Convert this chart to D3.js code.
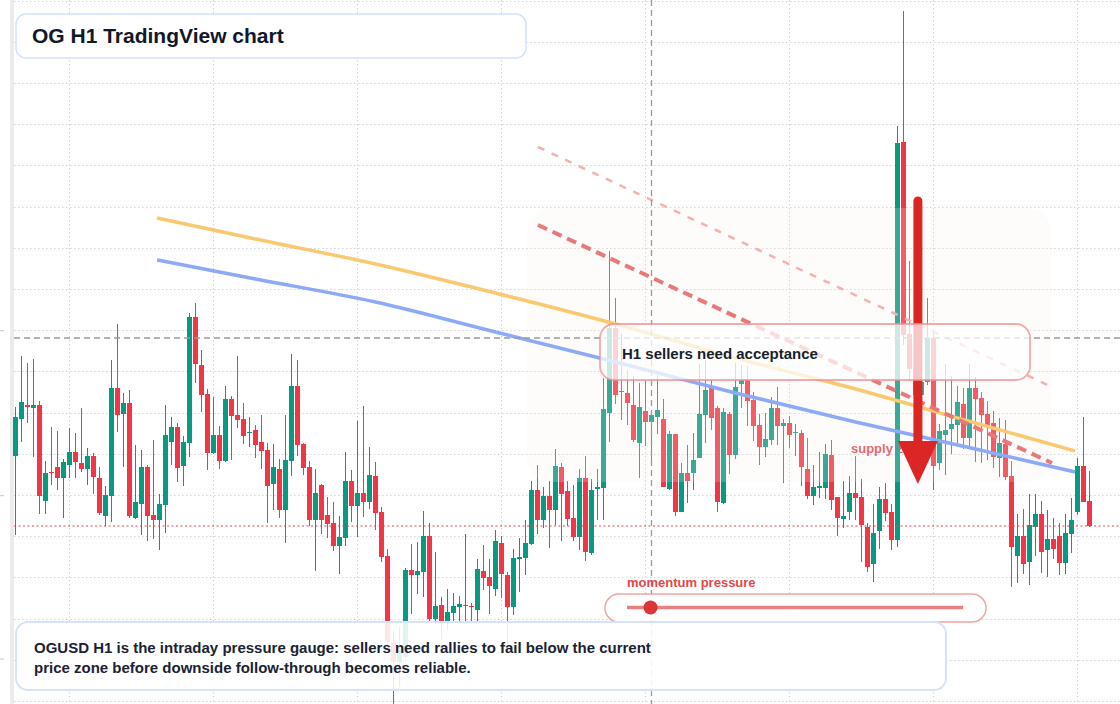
<!DOCTYPE html>
<html>
<head>
<meta charset="utf-8">
<script src="https://cdn.jsdelivr.net/npm/d3@7"></script>
<style>
  body { margin: 0; background: #fff; }
  svg { display: block; font-family: "Liberation Sans", Arial, Helvetica, sans-serif; }
</style>
</head>
<body>
<div id="chart"></div>
<script>
// OGUSD hourly candles (oldest -> newest)
const opens = [
  4.544,4.581,4.595,4.592,4.595,4.499,4.528,4.533,4.522,4.535,4.548,4.537,4.531,4.544,4.522,4.484,4.504,4.612,4.586,4.597,
  4.482,4.496,4.533,4.485,4.480,4.495,4.558,4.573,4.534,4.557,4.683,4.635,4.606,4.547,4.565,4.539,4.601,4.585,4.581,4.567,
  4.570,4.558,4.550,4.516,4.531,4.490,4.539,4.614,4.556,4.533,4.480,4.515,4.485,4.477,4.454,4.462,4.519,4.494,4.507,4.498,
  4.524,4.488,4.444,4.358,4.338,4.343,4.430,4.425,4.428,4.464,4.381,4.395,4.378,4.387,4.393,4.394,4.394,4.390,4.429,4.423,
  4.411,4.457,4.425,4.393,4.441,4.442,4.456,4.510,4.480,4.504,4.490,4.533,4.509,4.482,4.463,4.522,4.447,4.511,4.512,4.587,
  4.672,4.608,4.607,4.595,4.557,4.589,4.578,4.583,4.581,4.511,4.566,4.488,4.527,4.527,4.542,4.585,4.613,4.592,4.497,4.586,
  4.545,4.616,4.620,4.600,4.575,4.553,4.560,4.592,4.574,4.577,4.567,4.567,4.531,4.504,4.512,4.512,4.545,4.503,4.481,4.488,
  4.507,4.503,4.473,4.436,4.469,4.501,4.488,4.460,4.858,4.666,4.631,4.605,4.618,4.662,4.537,4.565,4.571,4.575,4.596,4.562,
  4.612,4.602,4.586,4.577,4.542,4.556,4.524,4.444,4.464,4.438,4.473,4.486,4.450,4.461,4.464,4.437,4.466,4.488,4.534,4.499
];
const highs = [
  4.593,4.644,4.637,4.641,4.599,4.539,4.573,4.569,4.541,4.572,4.567,4.592,4.552,4.547,4.533,4.514,4.640,4.676,4.607,4.610,
  4.555,4.550,4.535,4.560,4.506,4.595,4.583,4.577,4.564,4.687,4.697,4.650,4.611,4.603,4.574,4.614,4.604,4.644,4.597,4.583,
  4.575,4.585,4.557,4.556,4.541,4.585,4.646,4.640,4.557,4.539,4.531,4.516,4.503,4.498,4.484,4.548,4.530,4.579,4.594,4.553,
  4.538,4.493,4.451,4.370,4.373,4.432,4.456,4.458,4.489,4.477,4.448,4.403,4.411,4.407,4.404,4.466,4.397,4.441,4.455,4.441,
  4.470,4.464,4.428,4.451,4.462,4.480,4.519,4.535,4.513,4.519,4.551,4.537,4.519,4.515,4.531,4.544,4.521,4.531,4.622,4.749,
  4.702,4.666,4.630,4.624,4.617,4.619,4.587,4.625,4.601,4.569,4.566,4.537,4.555,4.567,4.636,4.640,4.620,4.594,4.592,4.588,
  4.637,4.635,4.634,4.608,4.586,4.587,4.603,4.613,4.581,4.584,4.576,4.570,4.562,4.535,4.548,4.556,4.560,4.503,4.519,4.524,
  4.544,4.521,4.477,4.496,4.513,4.517,4.496,4.874,4.989,4.739,4.650,4.628,4.702,4.670,4.576,4.636,4.624,4.614,4.612,4.636,
  4.623,4.608,4.599,4.589,4.582,4.580,4.539,4.486,4.491,4.506,4.506,4.499,4.490,4.482,4.477,4.486,4.502,4.542,4.583,4.529
];
const lows = [
  4.465,4.558,4.577,4.543,4.486,4.486,4.515,4.510,4.482,4.522,4.522,4.528,4.515,4.506,4.485,4.474,4.478,4.568,4.533,4.482,
  4.481,4.465,4.459,4.461,4.450,4.467,4.535,4.518,4.514,4.543,4.617,4.588,4.530,4.546,4.531,4.538,4.540,4.572,4.556,4.553,
  4.542,4.531,4.477,4.490,4.482,4.457,4.524,4.544,4.525,4.474,4.429,4.466,4.462,4.449,4.426,4.454,4.478,4.463,4.483,4.491,
  4.470,4.438,4.350,4.292,4.313,4.340,4.386,4.406,4.403,4.378,4.376,4.360,4.370,4.378,4.378,4.378,4.378,4.378,4.410,4.386,
  4.404,4.402,4.357,4.385,4.408,4.425,4.455,4.466,4.472,4.452,4.475,4.459,4.474,4.459,4.450,4.439,4.445,4.480,4.480,4.558,
  4.596,4.580,4.575,4.558,4.522,4.554,4.538,4.566,4.513,4.510,4.484,4.488,4.497,4.510,4.542,4.557,4.570,4.488,4.496,4.526,
  4.541,4.592,4.574,4.559,4.535,4.543,4.555,4.555,4.517,4.552,4.544,4.514,4.501,4.495,4.502,4.501,4.490,4.464,4.472,4.480,
  4.480,4.438,4.428,4.418,4.451,4.479,4.450,4.453,4.655,4.620,4.595,4.590,4.615,4.510,4.530,4.525,4.546,4.557,4.551,4.553,
  4.538,4.537,4.540,4.532,4.523,4.520,4.413,4.417,4.426,4.415,4.444,4.427,4.423,4.441,4.425,4.426,4.447,4.485,4.498,4.473
];
const closes = [
  4.583,4.598,4.593,4.595,4.504,4.527,4.527,4.522,4.538,4.548,4.538,4.531,4.544,4.523,4.487,4.505,4.612,4.585,4.597,4.484,
  4.498,4.533,4.484,4.480,4.496,4.565,4.573,4.532,4.558,4.683,4.636,4.605,4.547,4.565,4.539,4.601,4.584,4.580,4.564,4.568,
  4.555,4.549,4.514,4.533,4.490,4.540,4.614,4.555,4.532,4.480,4.507,4.480,4.476,4.454,4.463,4.519,4.494,4.507,4.498,4.525,
  4.487,4.443,4.358,4.338,4.350,4.430,4.425,4.429,4.464,4.381,4.394,4.378,4.388,4.394,4.396,4.395,4.393,4.431,4.422,4.414,
  4.459,4.426,4.393,4.442,4.443,4.457,4.510,4.480,4.504,4.490,4.534,4.506,4.481,4.463,4.522,4.448,4.510,4.513,4.591,4.672,
  4.605,4.609,4.597,4.560,4.593,4.578,4.585,4.590,4.513,4.566,4.488,4.527,4.519,4.540,4.586,4.610,4.582,4.498,4.588,4.545,
  4.613,4.620,4.599,4.574,4.553,4.561,4.592,4.574,4.577,4.565,4.568,4.533,4.504,4.513,4.514,4.546,4.500,4.482,4.484,4.507,
  4.502,4.475,4.433,4.467,4.501,4.487,4.460,4.857,4.665,4.631,4.605,4.618,4.662,4.534,4.569,4.570,4.576,4.598,4.562,4.612,
  4.601,4.585,4.573,4.543,4.557,4.523,4.453,4.464,4.436,4.475,4.486,4.448,4.461,4.451,4.437,4.467,4.480,4.534,4.498,4.474
];

// moving averages, sampled at candle positions
const maIndex = [23.6, 40, 60, 80, 100, 120, 140, 160, 176.6];
const maSlow = [4.782, 4.761, 4.736, 4.707, 4.676, 4.642, 4.611, 4.577, 4.549];
const maFast = [4.740, 4.721, 4.698, 4.668, 4.638, 4.607, 4.578, 4.551, 4.528];

// descending trend lines [index, price]
const trendOuter = [[87.08, 4.853], [172.75, 4.613]];
const trendInner = [[87.08, 4.775], [172.75, 4.537]];

// supply zone and sell arrow
const zoneIndex = [85.25, 172.6];
const zonePrice = [4.518, 4.792];
const arrowIndex = 150.4;
const arrowPrice = [4.804, 4.516];

// crosshair
const crossIndex = 106;
const crossPrice = 4.662;

const momentum = 0.07;

const titleText = "OG H1 TradingView chart";
const calloutText = "H1 sellers need acceptance";
const noteLines = [
  "OGUSD H1 is the intraday pressure gauge: sellers need rallies to fail below the current",
  "price zone before downside follow-through becomes reliable."
];

const W = 1120, H = 704;
const up = "#089981", down = "#f23645";

const svg = d3.select("#chart").append("svg")
    .attr("width", W)
    .attr("height", H);

const candles = opens.map((o, i) => ({i: i, o: o, h: highs[i], l: lows[i], c: closes[i]}));

const x = d3.scaleBand()
    .domain(d3.range(candles.length))
    .range([12.5, 1092.5])
    .paddingInner(1 / 6)
    .paddingOuter(1 / 12);
const half = x.bandwidth() / 2;
const xi = d3.scaleLinear()
    .domain([0, candles.length - 1])
    .range([x(0) + half, x(candles.length - 1) + half]);
const y = d3.scaleLinear().domain([4.296, 5.0]).range([H, 0]);

//background grid
const grid = svg.append("g");
grid.selectAll(".gh")
    .data(d3.range(0.6, H, 41.2))
    .enter().append("line")
    .attr("x1", 14).attr("x2", W)
    .attr("y1", d => Math.round(d) + 0.5).attr("y2", d => Math.round(d) + 0.5)
    .attr("stroke", "#d2d2d2")
    .attr("stroke-dasharray", "1.5,2.5");
grid.selectAll(".gv")
    .data(d3.range(69.3, W, 144))
    .enter().append("line")
    .attr("x1", d => Math.round(d) + 0.5).attr("x2", d => Math.round(d) + 0.5)
    .attr("y1", 0).attr("y2", H)
    .attr("stroke", "#d2d2d2")
    .attr("stroke-dasharray", "1.5,2.5");

//left edge strip and ticks
svg.append("rect").attr("x", 10).attr("y", 0).attr("width", 4).attr("height", H).attr("fill", "#ebebeb");
svg.selectAll(".tk")
    .data([330.7, 495.7, 659])
    .enter().append("line")
    .attr("x1", 0).attr("x2", 4)
    .attr("y1", d => d).attr("y2", d => d)
    .attr("stroke", "#c8c8c8");

//zone label sits under the candles
svg.append("text")
    .attr("x", 851)
    .attr("y", 453)
    .attr("fill", "#e2474a")
    .style("font-size", "13px")
    .style("font-weight", "bold")
    .text("supply zone");

//candles
const cg = svg.append("g");
cg.selectAll(".wick")
    .data(candles)
    .enter().append("line")
    .attr("x1", d => x(d.i) + half).attr("x2", d => x(d.i) + half)
    .attr("y1", d => y(d.h)).attr("y2", d => y(d.l))
    .attr("stroke", d => d.c >= d.o ? up : down)
    .attr("stroke-width", 1);
cg.selectAll(".body")
    .data(candles)
    .enter().append("rect")
    .attr("x", d => x(d.i))
    .attr("width", x.bandwidth())
    .attr("y", d => y(Math.max(d.o, d.c)))
    .attr("height", d => Math.max(1, Math.abs(y(d.o) - y(d.c))))
    .attr("fill", d => d.c >= d.o ? up : down);

//supply zone wash
svg.append("rect")
    .attr("x", xi(zoneIndex[0]))
    .attr("y", y(zonePrice[1]))
    .attr("width", xi(zoneIndex[1]) - xi(zoneIndex[0]))
    .attr("height", y(zonePrice[0]) - y(zonePrice[1]))
    .attr("rx", 24)
    .attr("fill", "#fbeee4")
    .attr("opacity", 0.2);

//moving averages
const maLine = vals => d3.line()
    .x((d, k) => xi(maIndex[k]))
    .y(d => y(d))
    .curve(d3.curveMonotoneX)(vals);
svg.append("path").attr("d", maLine(maSlow))
    .attr("fill", "none").attr("stroke", "#fac86e").attr("stroke-width", 3.5);
svg.append("path").attr("d", maLine(maFast))
    .attr("fill", "none").attr("stroke", "#8caaf5").attr("stroke-width", 3.5);

//trend lines
const tLine = d3.line().x(d => xi(d[0])).y(d => y(d[1]));
svg.append("path").attr("d", tLine(trendOuter))
    .attr("fill", "none").attr("stroke", "#f5b0b0").attr("stroke-width", 2.5)
    .attr("stroke-dasharray", "7,8");
svg.append("path").attr("d", tLine(trendInner))
    .attr("fill", "none").attr("stroke", "#eb7878").attr("stroke-width", 4)
    .attr("stroke-dasharray", "10,6");

//last price line
svg.append("line")
    .attr("x1", 14).attr("x2", W)
    .attr("y1", y(closes[closes.length - 1])).attr("y2", y(closes[closes.length - 1]))
    .attr("stroke", "#e8434f").attr("stroke-width", 1.2)
    .attr("stroke-dasharray", "2,2.5");

//crosshair
svg.append("line")
    .attr("x1", 14).attr("x2", W)
    .attr("y1", y(crossPrice)).attr("y2", y(crossPrice))
    .attr("stroke", "#9a9a9a").attr("stroke-width", 1.3)
    .attr("stroke-dasharray", "6,4");
svg.append("line")
    .attr("x1", xi(crossIndex)).attr("x2", xi(crossIndex))
    .attr("y1", 0).attr("y2", H)
    .attr("stroke", "#9a9a9a").attr("stroke-width", 1.3)
    .attr("stroke-dasharray", "6,4");

//sell arrow
const ax = xi(arrowIndex);
const aTop = y(arrowPrice[0]), aTip = y(arrowPrice[1]);
svg.append("line")
    .attr("x1", ax).attr("x2", ax)
    .attr("y1", aTop + 5).attr("y2", aTip - 40)
    .attr("stroke", "#dc2626").attr("stroke-width", 9)
    .attr("stroke-linecap", "round");
svg.append("path")
    .attr("d", `M${ax - 20},${aTip - 43} L${ax + 20},${aTip - 43} L${ax},${aTip} Z`)
    .attr("fill", "#dc2626");

//callout
svg.append("rect")
    .attr("x", 600).attr("y", 324).attr("width", 430).attr("height", 56)
    .attr("rx", 14)
    .attr("fill", "#fff").attr("fill-opacity", 0.74)
    .attr("stroke", "#ef8f8f").attr("stroke-opacity", 0.75).attr("stroke-width", 1.8);
svg.append("text")
    .attr("x", 622).attr("y", 359)
    .attr("fill", "#161e2c")
    .style("font-size", "15px").style("font-weight", "bold")
    .text(calloutText);

//momentum gauge
const mScale = d3.scaleLinear().domain([0, 1]).range([627, 963]);
svg.append("text")
    .attr("x", 627).attr("y", 587)
    .attr("fill", "#e2474a")
    .style("font-size", "13px").style("font-weight", "bold")
    .text("momentum pressure");
svg.append("rect")
    .attr("x", 605).attr("y", 594).attr("width", 381).attr("height", 28)
    .attr("rx", 14)
    .attr("fill", "#fff").attr("fill-opacity", 0.85)
    .attr("stroke", "#ef8f8f").attr("stroke-opacity", 0.8).attr("stroke-width", 1.5);
svg.append("line")
    .attr("x1", mScale(0)).attr("x2", mScale(1))
    .attr("y1", 607.5).attr("y2", 607.5)
    .attr("stroke", "#e46b6b").attr("stroke-opacity", 0.85).attr("stroke-width", 3.5);
svg.append("circle")
    .attr("cx", mScale(momentum)).attr("cy", 607.5).attr("r", 7)
    .attr("fill", "#dc3535");

//title box
svg.append("rect")
    .attr("x", 16).attr("y", 14).attr("width", 510).attr("height", 44)
    .attr("rx", 10)
    .attr("fill", "#fff").attr("fill-opacity", 0.92)
    .attr("stroke", "#d3e2fb").attr("stroke-width", 1.5);
svg.append("text")
    .attr("x", 32).attr("y", 43)
    .attr("fill", "#111827")
    .style("font-size", "21px").style("font-weight", "bold")
    .text(titleText);

//note box
svg.append("rect")
    .attr("x", 16).attr("y", 622).attr("width", 930).attr("height", 68)
    .attr("rx", 12)
    .attr("fill", "#fff").attr("fill-opacity", 0.88)
    .attr("stroke", "#d6e3fb").attr("stroke-width", 2);
svg.selectAll(".note")
    .data(noteLines)
    .enter().append("text")
    .attr("x", 34)
    .attr("y", (d, k) => 653 + k * 20)
    .attr("fill", "#1a2333")
    .style("font-size", "15px").style("font-weight", "bold")
    .text(d => d);
</script>
</body>
</html>
